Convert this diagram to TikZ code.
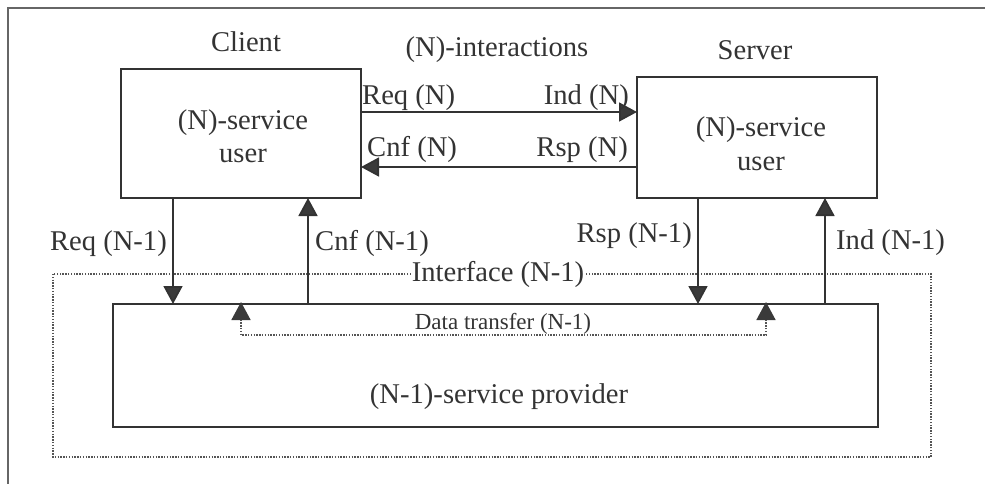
\documentclass[tikz,border=0pt]{standalone}
\usepackage{fontspec}
\setmainfont{Liberation Serif}
\usetikzlibrary{arrows.meta}
\definecolor{ink}{HTML}{333333}
\definecolor{tipcol}{HTML}{3A3A3A}
\definecolor{dotcol}{HTML}{555555}
\definecolor{framecol}{HTML}{666666}
\tikzset{
  txt/.style={font=\fontsize{28.6}{33}\selectfont, inner sep=0pt, text=ink},
  smalltxt/.style={font=\fontsize{23}{27}\selectfont, inner sep=0pt, text=ink},
  boxnode/.style={draw=ink, line width=1.8pt, inner sep=0pt, outer sep=0pt},
  arr/.style={draw=ink, line width=1.8pt, -{Triangle[length=18pt,width=19pt,fill=tipcol]}},
  dotline/.style={draw=dotcol, line width=1.6pt, dash pattern=on 1.4pt off 1.4pt},
  dotarr/.style={dotline, {Triangle[length=18pt,width=19pt,fill=tipcol,color=tipcol]}-{Triangle[length=18pt,width=19pt,fill=tipcol,color=tipcol]}}
}
\begin{document}
\begin{tikzpicture}[x=1pt,y=-1pt]
\useasboundingbox (0,0) rectangle (985,484);
% frame
\draw[framecol, line width=1.4pt] (8,484) -- (8,8) -- (985,8);

% interface (dotted)
\draw[dotline] (53,274) rectangle (931,457);

% boxes
\node[boxnode, minimum width=240pt, minimum height=129pt] (client) at (241,133.5) {};
\node[boxnode, minimum width=240pt, minimum height=121pt] (server) at (757,137.5) {};
\node[boxnode, minimum width=765pt, minimum height=123pt] (prov) at (495.5,365.5) {};

% box texts
\node[txt, anchor=base] (ctitle) at (246,52) {Client};
\node[txt, anchor=base] (stitle) at (755,60) {Server};
\node[txt, anchor=base] (inter) at (497,57) {(N)-interactions};
\node[txt, anchor=base] (cu1) at (243,130) {(N)-service};
\node[txt, anchor=base] (cu2) at (243,163) {user};
\node[txt, anchor=base] (su1) at (761,137) {(N)-service};
\node[txt, anchor=base] (su2) at (761,170) {user};
\node[txt, anchor=base] (provtxt) at (499,403) {(N-1)-service provider};

% interface label
\node[txt, anchor=base, fill=white, inner xsep=1pt, inner ysep=2pt] (iflabel) at (498,281) {Interface (N-1)};

% coordinates for connector rows / columns
\coordinate (yreq) at (0,112);
\coordinate (ycnf) at (0,167);
\coordinate (xreq) at (173,0);
\coordinate (xcnf) at (308,0);
\coordinate (xrsp) at (698,0);
\coordinate (xind) at (825,0);
\coordinate (xd1) at (241,0);
\coordinate (xd2) at (766,0);
\coordinate (ydt) at (0,335);
\coordinate (dt1) at (xd1 |- prov.north);
\coordinate (dt2) at (xd2 |- prov.north);

% (N) interactions
\draw[arr] (client.east |- yreq) -- (server.west |- yreq);
\draw[arr] (server.west |- ycnf) -- (client.east |- ycnf);

% (N-1) primitives
\draw[arr] (client.south -| xreq) -- (prov.north -| xreq);
\draw[arr] (prov.north -| xcnf) -- (client.south -| xcnf);
\draw[arr] (server.south -| xrsp) -- (prov.north -| xrsp);
\draw[arr] (prov.north -| xind) -- (server.south -| xind);

% data transfer
\draw[dotarr] ([yshift=2pt]dt1) -- (xd1 |- ydt) -- (xd2 |- ydt) -- ([yshift=2pt]dt2);
\node[smalltxt, anchor=base] (dtlabel) at (503,329) {Data transfer (N-1)};

% arrow labels
\node[txt, anchor=base west] (lreqn) at (362,105) {Req (N)};
\node[txt, anchor=base east] (lindn) at (629,105) {Ind (N)};
\node[txt, anchor=base west] (lcnfn) at (367,157) {Cnf (N)};
\node[txt, anchor=base east] (lrspn) at (628,157) {Rsp (N)};
\node[txt, anchor=base east] (lreq1) at (167,250) {Req (N-1)};
\node[txt, anchor=base west] (lcnf1) at (315,250) {Cnf (N-1)};
\node[txt, anchor=base east] (lrsp1) at (692,242) {Rsp (N-1)};
\node[txt, anchor=base west] (lind1) at (836,249) {Ind (N-1)};
\end{tikzpicture}
\end{document}
